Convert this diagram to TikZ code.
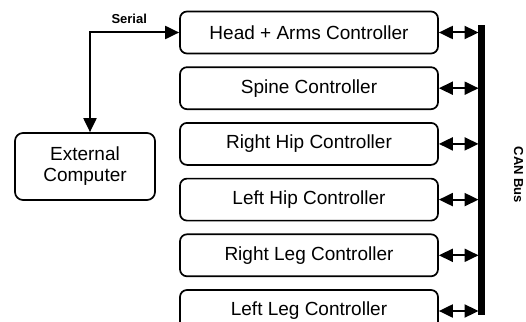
\documentclass[tikz,border=0pt]{standalone}
\usepackage{fontspec}
\setmainfont{Liberation Sans}
\usetikzlibrary{positioning,arrows.meta}

\begin{document}
\begin{tikzpicture}[
    x=1pt, y=-1pt,
    node distance=12pt,
    ctrl/.style={rectangle, draw, line width=1.7pt, rounded corners=7pt, minimum width=258pt, minimum height=42pt, font=\fontsize{19}{22}\selectfont},
    host/.style={rectangle, draw, line width=1.7pt, rounded corners=8pt, minimum width=140pt, minimum height=67pt, align=center, font=\fontsize{19}{21}\selectfont},
    busbar/.style={rectangle, fill=black, inner sep=0pt, minimum width=6.5pt, minimum height=290pt},
    busarrow/.style={{Triangle[length=14pt,width=13pt]}-{Triangle[length=14pt,width=13pt]}, line width=2pt, shorten >=-0.5pt},
    serarrow/.style={{Triangle[length=14pt,width=13pt]}-{Triangle[length=14pt,width=13pt]}, line width=2pt},
    tag/.style={font=\bfseries\fontsize{13}{15}\selectfont}
]
\useasboundingbox (0,0) rectangle (526,321);
\clip (0,0) rectangle (526,321);

% Controllers
\node[ctrl] (head) at (309,32.5) {Head + Arms Controller};
\node[ctrl, below=of head] (spine) {Spine Controller};
\node[ctrl, below=of spine] (rhip) {Right Hip Controller};
\node[ctrl, below=of rhip] (lhip) {Left Hip Controller};
\node[ctrl, below=of lhip] (rleg) {Right Leg Controller};
\node[ctrl, below=of rleg] (lleg) {Left Leg Controller};

% Host and bus
\node[host] (ext) at (85,166.5) {External\\Computer};
\node[busbar] (bus) at (481.5,170) {};
\node[tag, rotate=-90] (canlabel) at (518.5,175) {CAN Bus};

% Serial link
\draw[serarrow] ([xshift=5pt]ext.north) |- node[tag, above=5pt, pos=0.72] {Serial} (head.west);

% Bus links
\foreach \n in {head,spine,rhip,lhip,rleg,lleg}
    \draw[busarrow] (\n.east) -- (\n.east -| bus.west);

\end{tikzpicture}
\end{document}
